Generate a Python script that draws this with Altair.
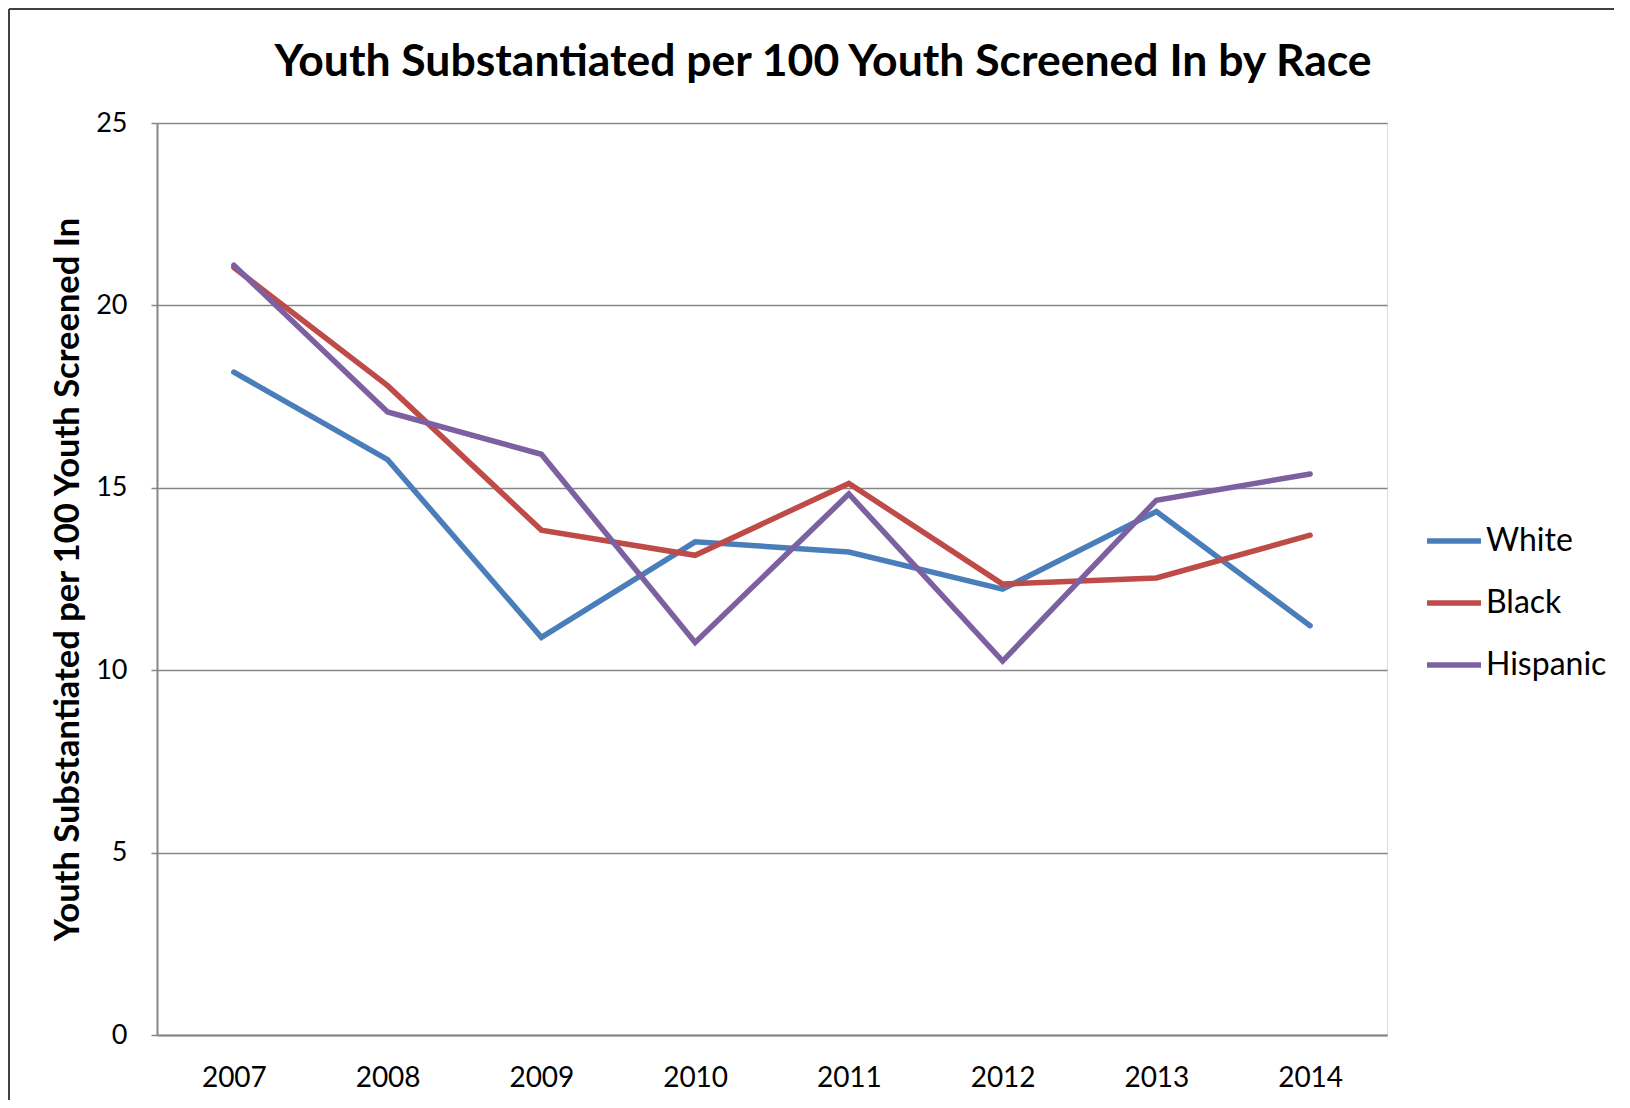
import altair as alt
import pandas as pd

years = ["2007", "2008", "2009", "2010", "2011", "2012", "2013", "2014"]
white = [18.17, 15.77, 10.9, 13.52, 13.24, 12.22, 14.35, 11.22]
black = [21.04, 17.8, 13.84, 13.15, 15.12, 12.36, 12.53, 13.7]
hispanic = [21.1, 17.08, 15.92, 10.76, 14.83, 10.25, 14.66, 15.38]
series = ["White", "Black", "Hispanic"]
colors = ["#4A7EBB", "#BE4B48", "#7D60A0"]
title_text = ["Youth Substantiated per 100 Youth Screened In by Race"]

rows = []
for name, vals in zip(series, [white, black, hispanic]):
    for y, v in zip(years, vals):
        rows.append({"Year": y, "Value": v, "Race": name})
df = pd.DataFrame(rows)

W, H = 1230, 912
FONT = "Lato"

lines = alt.Chart(df).mark_line(strokeWidth=5.5, strokeCap="round", strokeJoin="miter").encode(
    x=alt.X("Year:N", sort=years,
            scale=alt.Scale(type="point", padding=0.5),
            axis=alt.Axis(title=None, labelAngle=0, labelFont=FONT, labelFontSize=28,
                          labelColor="#000", labelPadding=29, ticks=False,
                          domainColor="#868686", domainWidth=2, grid=False)),
    y=alt.Y("Value:Q", scale=alt.Scale(domain=[0, 25]),
            axis=alt.Axis(values=[0, 5, 10, 15, 20, 25], title="Youth Substantiated per 100 Youth Screened In",
                          titleFont=FONT, titleFontSize=34.5, titleFontWeight="bold", titleColor="#000",
                          titlePadding=10,
                          labelFont=FONT, labelFontSize=27, labelColor="#000", labelPadding=24,
                          tickSize=6, tickColor="#868686", tickWidth=1.5,
                          domainColor="#868686", domainWidth=2,
                          grid=True, gridColor="#868686", gridWidth=1.5)),
    color=alt.Color("Race:N", sort=series,
                    scale=alt.Scale(domain=series, range=colors),
                    legend=alt.Legend(title=None, orient="none", legendX=1267, legendY=388,
                                      symbolType="stroke", symbolSize=2916, symbolStrokeWidth=5.5,
                                      labelFont=FONT, labelFontSize=32, labelColor="#000",
                                      labelOffset=2, rowPadding=16, padding=0)),
)

title = alt.Chart(pd.DataFrame({"t": title_text})).mark_text(
    font=FONT, fontSize=44.5, fontWeight="bold", color="#000", align="center", baseline="alphabetic"
).encode(text="t:N", x=alt.value(666), y=alt.value(-47))

border = alt.Chart(pd.DataFrame({"k": [0]})).mark_rule(color="#404040", strokeWidth=2).encode(
    x=alt.value(-148), y=alt.value(-114), y2=alt.value(H + 70))
border_top = alt.Chart(pd.DataFrame({"k": [0]})).mark_rule(color="#404040", strokeWidth=2).encode(
    x=alt.value(-148), x2=alt.value(W + 240), y=alt.value(-114))

chart = alt.layer(border, border_top, lines, title).properties(
    width=W, height=H,
    autosize=alt.AutoSizeParams(type="none"),
    padding={"left": 149, "top": 115, "right": 227, "bottom": 65},
).configure_view(stroke=None).configure(background="white")

chart.save("out.html", embed_options={"renderer": "svg", "actions": False})
